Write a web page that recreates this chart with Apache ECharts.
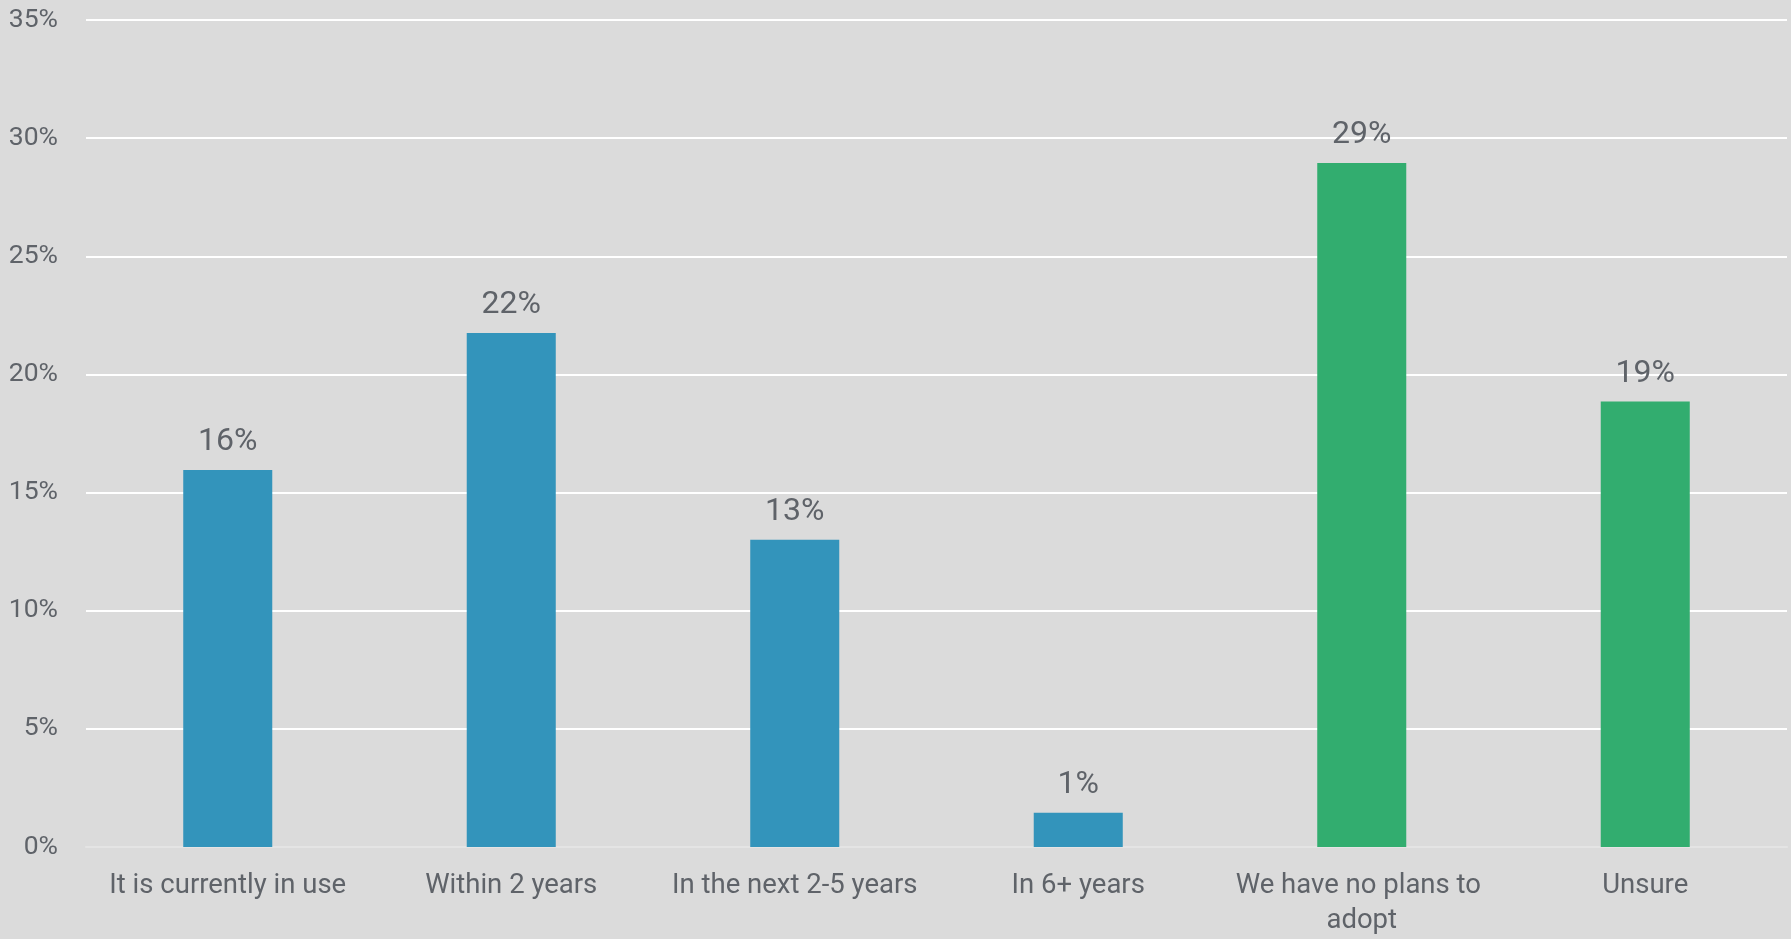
<!DOCTYPE html>
<html>
<head>
<meta charset="utf-8">
<script src="https://cdn.jsdelivr.net/npm/echarts@6/dist/echarts.min.js"></script>
<style>
html,body{margin:0;padding:0;background:#dbdbdb;}
#c{width:1791px;height:939px;}
</style>
</head>
<body>
<div id="c"></div>
<script>
const categories = ["It is currently in use", "Within 2 years", "In the next 2-5 years", "In 6+ years", "We have no plans to adopt", "Unsure"];
const values = [15.95, 21.75, 13.0, 1.45, 28.95, 18.85];
const barColors = ["#3394bb", "#3394bb", "#3394bb", "#3394bb", "#32ad6f", "#32ad6f"];
const yTicks = [0, 5, 10, 15, 20, 25, 30, 35];

const chart = echarts.init(document.getElementById('c'));
chart.setOption({
  backgroundColor: '#dbdbdb',
  animation: false,
  grid: {left: 86, right: 4, top: 20, bottom: 89},
  xAxis: {
    type: 'category',
    data: categories,
    axisLine: {show: true, lineStyle: {color: '#e4e4e4', width: 2}},
    axisTick: {show: false},
    axisLabel: {
      color: '#5f6369', fontFamily: 'Roboto', fontSize: 27.5, margin: 22,
      width: 280, overflow: 'break', lineHeight: 35, interval: 0
    }
  },
  yAxis: {
    type: 'value',
    min: yTicks[0], max: yTicks[yTicks.length - 1], interval: 5,
    axisLine: {show: false},
    axisTick: {show: false},
    splitLine: {show: true, lineStyle: {color: '#ffffff', width: 2}},
    axisLabel: {color: '#5f6369', fontFamily: 'Roboto', fontSize: 26.5, margin: 28, formatter: v => v + '%'}
  },
  series: [{
    type: 'bar',
    barWidth: '31.4%',
    data: values.map((v, i) => ({value: v, itemStyle: {color: barColors[i]}})),
    label: {
      show: true, position: 'top', distance: 12,
      color: '#5f6369', fontFamily: 'Roboto', fontSize: 32,
      formatter: p => Math.round(p.value) + '%'
    }
  }]
});
</script>
</body>
</html>
